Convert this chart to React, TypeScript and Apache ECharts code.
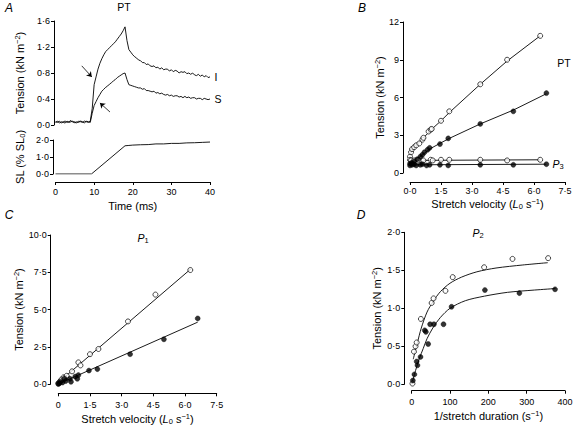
import React, { useEffect, useRef } from 'react';
import * as echarts from 'echarts';

const FONT = '"Liberation Sans", Arial, Helvetica, sans-serif';

// ---- Panel A: tension traces (ms, kN m-2) and sarcomere length (% SL0)
const traceI: [number, number][] = [
  [0, 0.05], [0.5, 0.04], [1, 0.06], [1.5, 0.03], [2, 0.05], [2.5, 0.06], [3, 0.04], [3.5, 0.05], [4, 0.07],
  [4.5, 0.04], [5, 0.05], [5.5, 0.03], [6, 0.06], [6.5, 0.05], [7, 0.04], [7.5, 0.06], [8, 0.05], [8.5, 0.04],
  [9, 0.06], [9.5, 0.25], [10, 0.62], [10.5, 0.74], [11, 0.86], [11.5, 0.95], [12, 1.02], [12.5, 1.08],
  [13, 1.13], [13.5, 1.16], [14, 1.19], [14.5, 1.22], [15, 1.25], [15.5, 1.28], [16, 1.32], [16.5, 1.36],
  [17, 1.4], [17.5, 1.45], [18, 1.51], [18.5, 1.3], [19, 1.16], [19.5, 1.12], [20, 1.08], [20.5, 1.05],
  [21, 1.03], [21.5, 1.0], [22, 0.99], [22.5, 0.96], [23, 0.96], [23.5, 0.93], [24, 0.94], [24.5, 0.91],
  [25, 0.9], [25.5, 0.91], [26, 0.88], [26.5, 0.89], [27, 0.86], [27.5, 0.88], [28, 0.85], [28.5, 0.86],
  [29, 0.86], [29.5, 0.83], [30, 0.85], [30.5, 0.82], [31, 0.84], [31.5, 0.83], [32, 0.8], [32.5, 0.82],
  [33, 0.81], [33.5, 0.82], [34, 0.79], [34.5, 0.8], [35, 0.78], [35.5, 0.8], [36, 0.77], [36.5, 0.76],
  [37, 0.78], [37.5, 0.75], [38, 0.77], [38.5, 0.74], [39, 0.76], [39.5, 0.73], [40, 0.74],
];
const traceS: [number, number][] = [
  [0, 0.04], [0.5, 0.06], [1, 0.03], [1.5, 0.05], [2, 0.04], [2.5, 0.03], [3, 0.06], [3.5, 0.04], [4, 0.05],
  [4.5, 0.06], [5, 0.03], [5.5, 0.05], [6, 0.04], [6.5, 0.06], [7, 0.05], [7.5, 0.03], [8, 0.06], [8.5, 0.05],
  [9, 0.04], [9.5, 0.18], [10, 0.3], [10.5, 0.36], [11, 0.42], [11.5, 0.47], [12, 0.52], [12.5, 0.55],
  [13, 0.58], [13.5, 0.6], [14, 0.63], [14.5, 0.65], [15, 0.68], [15.5, 0.7], [16, 0.73], [16.5, 0.75],
  [17, 0.77], [17.5, 0.79], [18, 0.8], [18.5, 0.7], [19, 0.62], [19.5, 0.61], [20, 0.6], [20.5, 0.59],
  [21, 0.58], [21.5, 0.57], [22, 0.57], [22.5, 0.55], [23, 0.56], [23.5, 0.53], [24, 0.53], [24.5, 0.52],
  [25, 0.51], [25.5, 0.52], [26, 0.49], [26.5, 0.5], [27, 0.48], [27.5, 0.49], [28, 0.47], [28.5, 0.46],
  [29, 0.47], [29.5, 0.45], [30, 0.46], [30.5, 0.44], [31, 0.45], [31.5, 0.45], [32, 0.43], [32.5, 0.44],
  [33, 0.42], [33.5, 0.44], [34, 0.42], [34.5, 0.43], [35, 0.41], [35.5, 0.42], [36, 0.42], [36.5, 0.4],
  [37, 0.41], [37.5, 0.41], [38, 0.39], [38.5, 0.41], [39, 0.4], [39.5, 0.39], [40, 0.4],
];
const traceSL: [number, number][] = [
  [0, 0], [9.3, 0], [18, 1.66], [19, 1.68], [20, 1.7], [22, 1.72], [24, 1.73], [26, 1.77], [28, 1.77],
  [30, 1.8], [32, 1.8], [34, 1.83], [36, 1.84], [38, 1.86], [40, 1.88],
];
const arrowI = [[6.8, 0.91], [9.4, 0.74]];
const arrowS = [[14.1, 0.2], [11.5, 0.34]];

// ---- Panel B: tension vs stretch velocity (L0 s-1, kN m-2)
const bOpenPT: [number, number][] = [
  [0, 1.3], [0.05, 1.65], [0.1, 1.9], [0.2, 2.05], [0.3, 2.2], [0.45, 2.35], [0.6, 2.65], [0.65, 2.8],
  [0.9, 3.3], [1.0, 3.45], [1.05, 3.5], [1.5, 4.15], [1.9, 4.9], [3.4, 7.05], [4.7, 9.0], [6.3, 10.9],
];
const bOpenPTFit: [number, number][] = [
  [0, 1.4], [0.1, 1.8], [0.3, 2.2], [0.6, 2.7], [1.0, 3.4], [1.5, 4.15], [1.9, 4.8], [3.4, 7.05], [4.7, 8.9], [6.3, 10.9],
];
const bFilledPT: [number, number][] = [
  [0, 0.75], [0.08, 0.8], [0.2, 0.92], [0.35, 1.1], [0.5, 1.3], [0.6, 1.45], [0.7, 1.65], [0.85, 1.85],
  [0.95, 2.0], [1.45, 2.3], [1.85, 2.75], [3.4, 3.9], [5.0, 4.9], [6.6, 6.35],
];
const bFilledPTFit: [number, number][] = [
  [0, 0.75], [0.3, 1.05], [0.6, 1.45], [1.0, 1.95], [1.5, 2.4], [1.9, 2.75], [3.4, 3.9], [5.0, 5.0], [6.6, 6.3],
];
const bOpenP3: [number, number][] = [
  [0, 1.05], [0.05, 1.0], [0.2, 1.0], [0.4, 1.05], [0.6, 0.95], [0.65, 1.0], [1.0, 1.05], [1.1, 1.0],
  [1.5, 1.05], [1.9, 1.05], [3.4, 1.05], [4.7, 1.0], [6.3, 1.05],
];
const bOpenP3Fit: [number, number][] = [[0, 1.0], [6.3, 1.05]];
const bFilledP3: [number, number][] = [
  [0, 0.6], [0.1, 0.65], [0.2, 0.7], [0.3, 0.6], [0.5, 0.65], [0.6, 0.7], [0.8, 0.6], [0.95, 0.65],
  [1.45, 0.65], [1.85, 0.6], [3.4, 0.65], [5.0, 0.65], [6.6, 0.7],
];
const bFilledP3Fit: [number, number][] = [[0, 0.65], [6.6, 0.7]];

// ---- Panel C: P1 vs stretch velocity
const cOpenP1: [number, number][] = [
  [0, 0.05], [0.05, 0.1], [0.1, 0.2], [0.15, 0.3], [0.25, 0.45], [0.3, 0.4], [0.4, 0.55], [0.65, 0.85],
  [0.95, 1.45], [1.05, 1.25], [1.5, 2.0], [1.9, 2.35], [3.3, 4.2], [4.6, 6.0], [6.25, 7.65],
];
const cOpenP1Fit: [number, number][] = [[0, 0.1], [6.3, 7.75]];
const cFilledP1: [number, number][] = [
  [0, 0], [0.05, 0.05], [0.1, 0.15], [0.2, 0.1], [0.3, 0.35], [0.35, 0.2], [0.55, 0.35], [0.6, 0.15],
  [0.8, 0.5], [0.9, 0.35], [0.95, 0.6], [1.45, 0.9], [1.85, 1.0], [3.4, 2.0], [5.0, 3.0], [6.6, 4.4],
];
const cFilledP1Fit: [number, number][] = [[0, 0], [6.6, 4.15]];

// ---- Panel D: P2 vs 1/stretch duration (s-1)
const dOpenP2: [number, number][] = [
  [2, 0.01], [6, 0.43], [10, 0.5], [13, 0.55], [24, 0.86], [52, 1.07], [57, 1.13], [88, 1.23],
  [107, 1.41], [189, 1.54], [263, 1.65], [356, 1.66],
];
const dOpenP2Fit: [number, number][] = [
  [4, 0.33], [15, 0.55], [25, 0.74], [40, 0.95], [56, 1.09], [75, 1.22], [100, 1.33], [130, 1.41],
  [170, 1.48], [220, 1.53], [290, 1.57], [355, 1.6],
];
const dFilledP2: [number, number][] = [
  [3, 0.05], [7, 0.13], [13, 0.3], [15, 0.25], [23, 0.36], [34, 0.71], [37, 0.69], [43, 0.53],
  [48, 0.79], [58, 0.79], [83, 0.79], [104, 1.02], [191, 1.24], [281, 1.2], [374, 1.25],
];
const dFilledP2Fit: [number, number][] = [
  [0, 0], [10, 0.18], [20, 0.34], [30, 0.47], [40, 0.6], [55, 0.74], [75, 0.88], [100, 1.0],
  [140, 1.1], [190, 1.16], [250, 1.21], [320, 1.24], [375, 1.26],
];

// ---- Tick settings
const timeTicks = { min: 0, max: 40, interval: 10 };
const tensionATicks = { min: 0, max: 1.6, interval: 0.4 };
const slTicks = { min: 0, max: 2, interval: 1 };
const velTicks = { min: 0, max: 7.5, interval: 1.5 };
const tensionBTicks = { min: 0, max: 12, interval: 3 };
const tensionCTicks = { min: 0, max: 10, interval: 2.5 };
const durTicks = { min: 0, max: 400, interval: 100 };
const tensionDTicks = { min: 0, max: 2, interval: 0.5 };

const dot1 = (v: number) => v.toFixed(1).replace('.', '\u00b7');
const int0 = (v: number) => String(Math.round(v));

const TS = 11;
const rich: any = {
  a: { fontSize: TS, fontFamily: FONT, color: '#000', lineHeight: 13 },
  i: { fontSize: TS, fontFamily: FONT, color: '#000', fontStyle: 'italic', lineHeight: 13 },
  sup: { fontSize: 7.5, fontFamily: FONT, color: '#000', verticalAlign: 'top', lineHeight: 8 },
  sub: { fontSize: 7.5, fontFamily: FONT, color: '#000', verticalAlign: 'bottom', lineHeight: 8 },
};

function axis(extra: any) {
  return {
    type: 'value',
    axisLine: { show: true, onZero: false, lineStyle: { color: '#000', width: 1 } },
    axisTick: { show: true, inside: false, length: 3, lineStyle: { color: '#000', width: 1 } },
    splitLine: { show: false },
    nameLocation: 'middle',
    nameTextStyle: { color: '#000', fontSize: TS, fontFamily: FONT, rich },
    ...extra,
    axisLabel: { color: '#000', fontSize: 9, fontFamily: FONT, margin: 4, ...(extra.axisLabel || {}) },
  };
}

const lineStyle = { color: '#000', width: 0.9 };
function traceSeries(data: [number, number][], ai: number, extra: any = {}) {
  return { type: 'line', xAxisIndex: ai, yAxisIndex: ai, data, symbol: 'none', lineStyle, silent: true, ...extra };
}
function openSeries(data: [number, number][], ai: number) {
  return {
    type: 'scatter', xAxisIndex: ai, yAxisIndex: ai, data, symbol: 'circle', symbolSize: 5,
    itemStyle: { color: '#fff', borderColor: '#000', borderWidth: 0.9 }, z: 4,
  };
}
function filledSeries(data: [number, number][], ai: number) {
  return {
    type: 'scatter', xAxisIndex: ai, yAxisIndex: ai, data, symbol: 'circle', symbolSize: 5,
    itemStyle: { color: '#000', borderColor: '#000', borderWidth: 0.5 }, z: 5,
  };
}

function label(x: number, y: number, text: string, size = 10, italic = false, extraRich: any = null) {
  return {
    type: 'text', x, y, silent: true,
    style: {
      text, fill: '#000', fontSize: size, fontFamily: FONT, fontStyle: italic ? 'italic' : 'normal',
      align: 'center', verticalAlign: 'middle', textAlign: 'center', textVerticalAlign: 'middle',
      rich: extraRich || undefined,
    },
  };
}

const pRich = {
  p: { fontSize: 10.5, fontFamily: FONT, fontStyle: 'italic', color: '#000', lineHeight: 12 },
  s: { fontSize: 7.5, fontFamily: FONT, color: '#000', verticalAlign: 'bottom', lineHeight: 8 },
};

export default function App() {
  const ref = useRef<HTMLDivElement>(null);
  useEffect(() => {
    if (!ref.current) return;
    const chart = echarts.init(ref.current, null, { renderer: 'svg' });
    const option: any = {
      animation: false,
      backgroundColor: '#fff',
      textStyle: { fontFamily: FONT },
      grid: [
        { left: 55.5, top: 21, width: 154.5, height: 104 },
        { left: 55.5, top: 140, width: 154.5, height: 34 },
        { left: 410, top: 22, width: 155, height: 151 },
        { left: 58.3, top: 235, width: 158.4, height: 149 },
        { left: 411.7, top: 232.3, width: 153.3, height: 152 },
        { left: 55.5, top: 140, width: 154.5, height: 34 },
      ],
      xAxis: [
        axis({ gridIndex: 0, ...timeTicks, show: false }),
        axis({ gridIndex: 1, ...timeTicks, show: false }),
        axis({ gridIndex: 2, ...velTicks, offset: 9, axisLabel: { formatter: dot1, margin: 4 },
          name: '{a|Stretch velocity (}{i|L}{sub|0}{a| s}{sup|\u22121}{a|)}', nameGap: 15 }),
        axis({ gridIndex: 3, ...velTicks, offset: 9.3, axisLabel: { formatter: (v: number) => (v === 0 ? '0' : dot1(v)), margin: 7 },
          name: '{a|Stretch velocity (}{i|L}{sub|0}{a| s}{sup|\u22121}{a|)}', nameGap: 19 }),
        axis({ gridIndex: 4, ...durTicks, offset: 6.4, axisLabel: { formatter: int0, margin: 7 },
          name: '{a|1/stretch duration (s}{sup|\u22121}{a|)}', nameGap: 19 }),
        axis({ gridIndex: 5, ...timeTicks, offset: 8, axisLabel: { formatter: int0, margin: 5 },
          name: 'Time (ms)', nameGap: 18 }),
      ],
      yAxis: [
        axis({ gridIndex: 0, ...tensionATicks, offset: 1.5, axisLabel: { formatter: dot1 },
          name: '{a|Tension (kN m}{sup|\u22122}{a|)}', nameGap: 28 }),
        axis({ gridIndex: 1, ...slTicks, offset: 2.5, axisLabel: { formatter: dot1 },
          name: '{a|SL (% SL}{sub|0}{a|)}', nameGap: 27 }),
        axis({ gridIndex: 2, ...tensionBTicks, offset: 7, axisLabel: { formatter: int0 },
          name: '{a|Tension (kN m}{sup|\u22122}{a|)}', nameGap: 16 }),
        axis({ gridIndex: 3, ...tensionCTicks, offset: 7.6, axisLabel: { formatter: dot1 },
          name: '{a|Tension (kN m}{sup|\u22122}{a|)}', nameGap: 24 }),
        axis({ gridIndex: 4, ...tensionDTicks, offset: 7.4, axisLabel: { formatter: dot1 },
          name: '{a|Tension (kN m}{sup|\u22122}{a|)}', nameGap: 21 }),
        axis({ gridIndex: 5, ...slTicks, show: false }),
      ],
      series: [
        traceSeries(traceI, 0, {
          markLine: {
            silent: true, symbol: ['none', 'arrow'], symbolSize: 5, label: { show: false },
            lineStyle: { color: '#000', width: 0.8, type: 'solid' },
            data: [
              [{ coord: arrowI[0] }, { coord: arrowI[1] }],
              [{ coord: arrowS[0] }, { coord: arrowS[1] }],
            ],
          },
        }),
        traceSeries(traceS, 0),
        traceSeries(traceSL, 1),
        traceSeries(bOpenPTFit, 2),
        traceSeries(bFilledPTFit, 2),
        traceSeries(bOpenP3Fit, 2),
        traceSeries(bFilledP3Fit, 2),
        openSeries(bOpenPT, 2),
        filledSeries(bFilledPT, 2),
        openSeries(bOpenP3, 2),
        filledSeries(bFilledP3, 2),
        traceSeries(cOpenP1Fit, 3),
        traceSeries(cFilledP1Fit, 3),
        openSeries(cOpenP1, 3),
        filledSeries(cFilledP1, 3),
        traceSeries(dOpenP2Fit, 4, { smooth: 0.3 }),
        traceSeries(dFilledP2Fit, 4, { smooth: 0.3 }),
        openSeries(dOpenP2, 4),
        filledSeries(dFilledP2, 4),
      ],
      graphic: [
        label(9, 8, 'A', 12, true),
        label(362, 8, 'B', 12, true),
        label(9, 215, 'C', 12, true),
        label(361, 215, 'D', 12, true),
        label(124, 7, 'PT', 10.5),
        label(216, 77, 'I', 10.5),
        label(218, 99, 'S', 10.5),
        label(564, 63, 'PT', 10.5),
        label(558, 164, '{p|P}{s|3}', 10, false, pRich),
        label(143, 238, '{p|P}{s|1}', 10, false, pRich),
        label(478, 233, '{p|P}{s|2}', 10, false, pRich),
      ],
    };
    chart.setOption(option);
    return () => chart.dispose();
  }, []);
  return (
    <div
      ref={ref}
      style={{ position: 'fixed', left: 0, top: 0, width: 576, height: 429, background: '#fff' }}
    />
  );
}
